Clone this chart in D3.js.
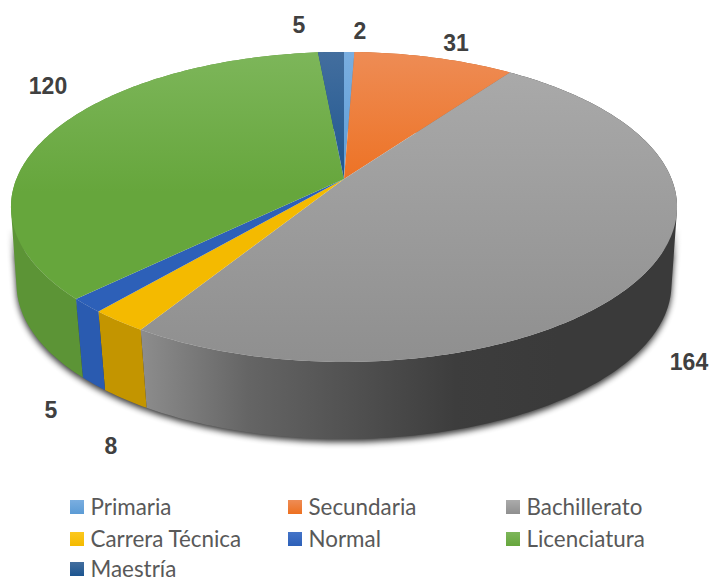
<!DOCTYPE html>
<html>
<head>
<meta charset="utf-8">
<script src="https://cdn.jsdelivr.net/npm/d3@7"></script>
<style>
  html, body { margin: 0; padding: 0; background: #fff; }
  .value { font-family: "Liberation Sans", Arial, sans-serif; font-weight: bold; font-size: 23px; fill: #404040; }
  .legend-label { font-family: Lato, sans-serif; font-size: 22.4px; fill: #595959; }
</style>
</head>
<body>
<div id="canvas"></div>
<script>
"use strict";

let categories = ["Primaria", "Secundaria", "Bachillerato", "Carrera Técnica", "Normal", "Licenciatura", "Maestría"];
let values = [2, 31, 164, 8, 5, 120, 5];

let svgWidth = 709;
let svgHeight = 579;

/* top colour, bottom colour, wall colour of each slice */
let capTop = ["#7aaee0", "#ee8c55", "#ababab", "#fcc81e", "#4474c8", "#7db65a", "#436e9e"];
let capBottom = ["#5b9bd5", "#ed7020", "#8f8f8f", "#f4ba00", "#2d60b8", "#66a63c", "#1c5590"];
let wallColor = ["#4a80b0", "#c05a18", "url(#wallGrey)", "#c39500", "#2a5bb0", "#5c9436", "#1c4a78"];

/* centre of each value label */
let labelX = [360, 456, 689, 111, 51, 48, 299];
let labelY = [31, 43, 362, 446, 410, 86, 25];

let legendCols = [70, 288, 506];
let legendRows = [507, 539, 569];

let svg = d3.select("#canvas")
    .append("svg")
    .attr("width", svgWidth)
    .attr("height", svgHeight)
    .style("display", "block");

let defs = svg.append("defs");

/* ---------------- GRADIENTS ---------------- */
categories.forEach(function (c, i) {
    let g = defs.append("linearGradient")
        .attr("id", "cap" + i)
        .attr("gradientUnits", "userSpaceOnUse")
        .attr("x1", 0).attr("x2", 0)
        .attr("y1", 52).attr("y2", 362);
    g.append("stop").attr("offset", 0).attr("stop-color", capTop[i]);
    g.append("stop").attr("offset", i === 2 ? 1 : 0.45).attr("stop-color", capBottom[i]);

    let s = defs.append("linearGradient")
        .attr("id", "swatch" + i)
        .attr("x1", 0).attr("x2", 0)
        .attr("y1", 0).attr("y2", 1);
    s.append("stop").attr("offset", 0).attr("stop-color", capTop[i]);
    s.append("stop").attr("offset", 1).attr("stop-color", capBottom[i]);
});

let wallGrey = defs.append("linearGradient")
    .attr("id", "wallGrey")
    .attr("gradientUnits", "userSpaceOnUse")
    .attr("x1", 143).attr("x2", 560)
    .attr("y1", 0).attr("y2", 0);
wallGrey.append("stop").attr("offset", 0).attr("stop-color", "#8c8c8c");
wallGrey.append("stop").attr("offset", 0.25).attr("stop-color", "#656565");
wallGrey.append("stop").attr("offset", 0.75).attr("stop-color", "#3d3d3d");
wallGrey.append("stop").attr("offset", 1).attr("stop-color", "#3a3a3a");

/* ---------------- SHADOW ---------------- */
defs.append("filter")
    .attr("id", "pieBlur")
    .attr("filterUnits", "userSpaceOnUse")
    .attr("x", 0).attr("y", 0)
    .attr("width", svgWidth).attr("height", svgHeight)
    .append("feGaussianBlur")
    .attr("stdDeviation", 3);

// fades in so the shadow does not halo the back of the pie
let fade = defs.append("linearGradient")
    .attr("id", "shadowFade")
    .attr("gradientUnits", "userSpaceOnUse")
    .attr("x1", 0).attr("x2", 0)
    .attr("y1", 228).attr("y2", 258);
fade.append("stop").attr("offset", 0).attr("stop-color", "#000");
fade.append("stop").attr("offset", 1).attr("stop-color", "#fff");

defs.append("mask")
    .attr("id", "shadowMask")
    .attr("maskUnits", "userSpaceOnUse")
    .attr("x", 0).attr("y", 0)
    .attr("width", svgWidth).attr("height", svgHeight)
    .append("rect")
    .attr("width", svgWidth)
    .attr("height", svgHeight)
    .attr("fill", "url(#shadowFade)");

/* ---------------- PERSPECTIVE ---------------- */
let cx = 344;
let topPlane = { cy: 179, rx: 327.6, ry: 150, p: 0.18 };
let bottomPlane = { cy: 258.5, rx: 323, ry: 150.8, p: 0.165 };

function project(angle, plane) {
    let u = Math.sin(angle);
    let v = -Math.cos(angle);
    let w = 1 - plane.p * v;
    return [cx + plane.rx * u / w, plane.cy + plane.ry * v / w];
}

function rim(d, plane) {
    let n = Math.max(4, Math.ceil((d.endAngle - d.startAngle) * 60));
    return d3.range(n + 1).map(function (k) {
        return project(d.startAngle + (d.endAngle - d.startAngle) * k / n, plane);
    });
}

/* wall = one quad per rim step, all wound the same way so they union */
function wallPath(d) {
    let a = rim(d, topPlane);
    let b = rim(d, bottomPlane);
    let out = "";
    for (let k = 0; k < a.length - 1; k++) {
        let quad = [a[k], a[k + 1], b[k + 1], b[k]];
        if (d3.polygonArea(quad) < 0) quad.reverse();
        out += line(quad) + "Z";
    }
    return out;
}

/* ---------------- DRAW ---------------- */
let slices = d3.pie().sort(null)(values);
let line = d3.line();

let shadowLayer = svg.append("g")
    .attr("mask", "url(#shadowMask)")
    .append("g")
    .attr("filter", "url(#pieBlur)")
    .attr("opacity", 0.8)
    .append("g")
    .attr("transform", "translate(0,3)");
let wallsLayer = svg.append("g");
let capsLayer = svg.append("g");

slices.forEach(function (d) {
    shadowLayer.append("path")
        .attr("d", wallPath(d))
        .attr("fill", "#000");
    wallsLayer.append("path")
        .attr("d", wallPath(d))
        .attr("fill", wallColor[d.index]);
});

slices.forEach(function (d) {
    let apex = [cx, topPlane.cy];
    capsLayer.append("path")
        .attr("d", line([apex].concat(rim(d, topPlane))) + "Z")
        .attr("fill", "url(#cap" + d.index + ")");
});

/* ---------------- VALUE LABELS ---------------- */
values.forEach(function (v, i) {
    svg.append("text")
        .attr("class", "value")
        .attr("x", labelX[i])
        .attr("y", labelY[i])
        .attr("dy", "0.36em")
        .attr("text-anchor", "middle")
        .text(v);
});

/* ---------------- LEGEND ---------------- */
categories.forEach(function (c, i) {
    let x = legendCols[i % 3];
    let y = legendRows[Math.floor(i / 3)];
    svg.append("rect")
        .attr("x", x)
        .attr("y", y - 7)
        .attr("width", 14)
        .attr("height", 14)
        .attr("fill", "url(#swatch" + i + ")");
    svg.append("text")
        .attr("class", "legend-label")
        .attr("x", x + 20.5)
        .attr("y", y)
        .attr("dy", "0.35em")
        .text(c);
});
</script>
</body>
</html>
